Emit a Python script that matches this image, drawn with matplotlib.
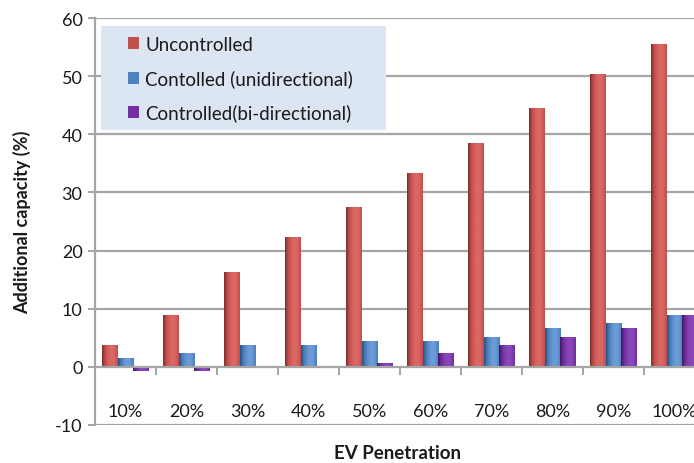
import matplotlib
matplotlib.use("Agg")
import matplotlib.pyplot as plt
import numpy as np
from matplotlib.colors import LinearSegmentedColormap
from matplotlib.patches import Rectangle, Patch

plt.rcParams['font.family'] = ['Lato', 'DejaVu Sans']

categories = ["10%", "20%", "30%", "40%", "50%", "60%", "70%", "80%", "90%", "100%"]
uncontrolled = [3.7, 8.9, 16.3, 22.3, 27.5, 33.4, 38.5, 44.5, 50.4, 55.6]
controlled_uni = [1.5, 2.3, 3.7, 3.7, 4.5, 4.5, 5.2, 6.7, 7.5, 8.9]
controlled_bi = [-0.7, -0.7, 0.0, 0.0, 0.7, 2.3, 3.7, 5.2, 6.7, 8.9]
series_names = ["Uncontrolled", "Contolled (unidirectional)", "Controlled(bi-directional)"]
y_ticks = [-10, 0, 10, 20, 30, 40, 50, 60]

# (legend colour, dark edge, base, highlight) per series
palettes = [
    ("#C0504D", "#7A2D2B", "#C24E4B", "#DA6763"),
    ("#4F81BD", "#2A4F7E", "#4A7DBA", "#6A9BD6"),
    ("#7030A0", "#42185D", "#6E2E9C", "#8A46B8"),
]

W, H = 694, 464
fig = plt.figure(figsize=(W / 100, H / 100), dpi=100)
left_px, right_px, top_px, bottom_px = 95, 705, 19, 426
ax = fig.add_axes([left_px / W, (H - bottom_px) / H,
                   (right_px - left_px) / W, (bottom_px - top_px) / H])

x = np.arange(len(categories))
bw = 0.262
offsets = [-bw, 0.0, bw]
all_series = [uncontrolled, controlled_uni, controlled_bi]

grad = np.linspace(0, 1, 64).reshape(1, -1)
for vals, off, pal in zip(all_series, offsets, palettes):
    bars = ax.bar(x + off, vals, width=bw, color=pal[2], zorder=3, linewidth=0)
    cmap = LinearSegmentedColormap.from_list(
        "cyl", [(0.0, pal[1]), (0.2, pal[2]), (0.5, pal[3]), (0.75, pal[3]), (1.0, pal[2])])
    for b in bars:
        bx, by = b.get_x(), b.get_y()
        bwid, bh = b.get_width(), b.get_height()
        if bh == 0:
            continue
        y0, y1 = (by, by + bh) if bh > 0 else (by + bh, by)
        im = ax.imshow(grad, cmap=cmap, extent=(bx, bx + bwid, y0, y1),
                       aspect="auto", interpolation="bilinear", zorder=3.5)
        im.set_clip_path(b)

ax.set_xlim(-0.5, len(categories) - 0.5)
ax.set_ylim(-10, 60)

grid_col = "#A5A5A5"
for yv in y_ticks:
    if yv > 0:
        ax.axhline(yv, color=grid_col, lw=1.6, zorder=1)
ax.axhline(-10, color=grid_col, lw=1.6, zorder=1)

for s in ["top", "right"]:
    ax.spines[s].set_visible(False)
ax.spines["left"].set_color(grid_col)
ax.spines["left"].set_linewidth(1.6)
ax.spines["bottom"].set_position(("data", 0))
ax.spines["bottom"].set_color(grid_col)
ax.spines["bottom"].set_linewidth(1.6)
ax.spines["bottom"].set_zorder(4)

ax.set_yticks(y_ticks)
ax.set_yticklabels([str(v) for v in y_ticks])
ax.tick_params(axis="y", length=5, width=1.4, color=grid_col, pad=4,
               labelsize=13, labelcolor="#1a1a1a")

ax.set_xticks(x)
ax.set_xticklabels(categories)
ax.set_xticks(np.arange(0.5, len(categories) - 1, 1.0), minor=True)
ax.tick_params(axis="x", which="major", length=0, pad=26, labelsize=13, labelcolor="#1a1a1a")
ax.tick_params(axis="x", which="minor", length=6, width=1.4, color=grid_col)

ax.set_facecolor("white")

fig.text(22 / W, 1 - 222 / H, "Additional capacity (%)", rotation=90,
         ha="center", va="center", fontsize=13, fontweight="bold", color="#1a1a1a")
fig.text(397 / W, 1 - 454 / H, "EV Penetration", ha="center", va="center",
         fontsize=13.5, fontweight="bold", color="#1a1a1a")

# legend panel
lx0, lx1, ly0, ly1 = 101, 386, 27, 131
panel = Rectangle((lx0 / W, 1 - ly1 / H), (lx1 - lx0) / W, (ly1 - ly0) / H,
                  transform=fig.transFigure, facecolor="#DCE6F2", edgecolor="none", zorder=5)
fig.patches.append(panel)
handles = [Patch(facecolor=p[0], edgecolor="none") for p in palettes]
leg = fig.legend(handles, series_names, loc="upper left",
                 bbox_to_anchor=(128 / W, 1 - 37 / H), frameon=False,
                 fontsize=13.5, handlelength=0.6, handleheight=0.6,
                 handletextpad=0.32, labelspacing=0.87, borderpad=0.0,
                 borderaxespad=0.0)
leg.set_zorder(6)
for t in leg.get_texts():
    t.set_color("#1a1a1a")

fig.savefig("out.png", dpi=100)
